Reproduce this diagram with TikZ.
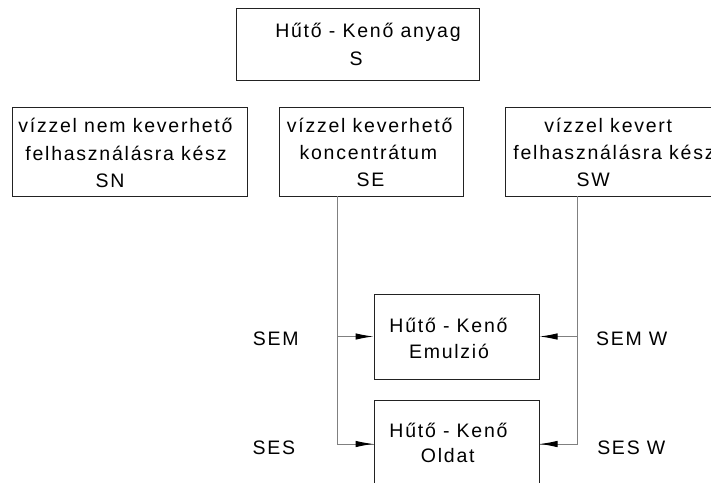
\documentclass[tikz,border=0pt]{standalone}
\usepackage{fontspec}
\setmainfont{Liberation Sans}[LetterSpace=9]
\usetikzlibrary{arrows.meta}
\definecolor{boxline}{HTML}{222222}
\definecolor{wireline}{HTML}{808080}
\begin{document}
\begin{tikzpicture}[x=1pt,y=-1pt,
  box/.style={draw=boxline,line width=1pt,rectangle,inner sep=0pt},
  txt/.style={anchor=base,inner sep=0pt,text=black,font=\fontsize{19.5}{22}\selectfont},
  wire/.style={draw=wireline,line width=1pt},
  feed/.style={wire,-{Latex[length=18pt,width=6.5pt,black]}}]
\useasboundingbox (0,0) rectangle (711,482);
\clip (0,0) rectangle (711,482);
% boxes
\node[box,minimum width=243pt,minimum height=72pt] (top) at (357.5,44) {};
\node[box,minimum width=235pt,minimum height=89pt] (sn) at (129.5,151.5) {};
\node[box,minimum width=184pt,minimum height=89pt] (se) at (371,151.5) {};
\node[box,minimum width=220pt,minimum height=89pt] (sw) at (615,151.5) {};
\node[box,minimum width=165pt,minimum height=85pt] (emul) at (456.5,336.5) {};
\node[box,minimum width=165pt,minimum height=85pt] (oldat) at (456.5,442.5) {};
% box texts
\node[txt] (top1) at (368,37) {Hűtő - Kenő anyag};
\node[txt] (top2) at (356,65) {S};
\node[txt] (sn1) at (125.5,132) {vízzel nem keverhető};
\node[txt] (sn2) at (126,160) {felhasználásra kész};
\node[txt] (sn3) at (110,187) {SN};
\node[txt] (se1) at (369.7,132) {vízzel keverhető};
\node[txt] (se2) at (368.3,159.5) {koncentrátum};
\node[txt] (se3) at (370.5,186) {SE};
\node[txt] (sw1) at (608.3,132) {vízzel kevert};
\node[txt] (sw2) at (614,159.5) {felhasználásra kész};
\node[txt] (sw3) at (593.3,186) {SW};
\node[txt] (em1) at (448.5,332) {Hűtő - Kenő};
\node[txt] (em2) at (449,358) {Emulzió};
\node[txt] (ol1) at (448.5,437) {Hűtő - Kenő};
\node[txt] (ol2) at (447.8,462) {Oldat};
% side labels
\node[txt] (sem) at (275.8,345.5) {SEM};
\node[txt] (ses) at (273.8,454.3) {SES};
\node[txt] (semw) at (631.7,345.5) {SEM W};
\node[txt] (sesw) at (631.3,454.3) {SES W};
% feed lines
\coordinate (lt) at (337,196);
\coordinate (rt) at (577,196);
\coordinate (olw) at ([yshift=-1.5pt]oldat.west);
\coordinate (ole) at ([yshift=-1.5pt]oldat.east);
\draw[wire] (lt) |- (olw);
\draw[wire] (rt) |- (ole);
\draw[feed] (lt |- emul.west) -- (emul.west);
\draw[feed] (lt |- olw) -- (olw);
\draw[feed] (rt |- emul.east) -- (emul.east);
\draw[feed] (rt |- ole) -- (ole);
\end{tikzpicture}
\end{document}
